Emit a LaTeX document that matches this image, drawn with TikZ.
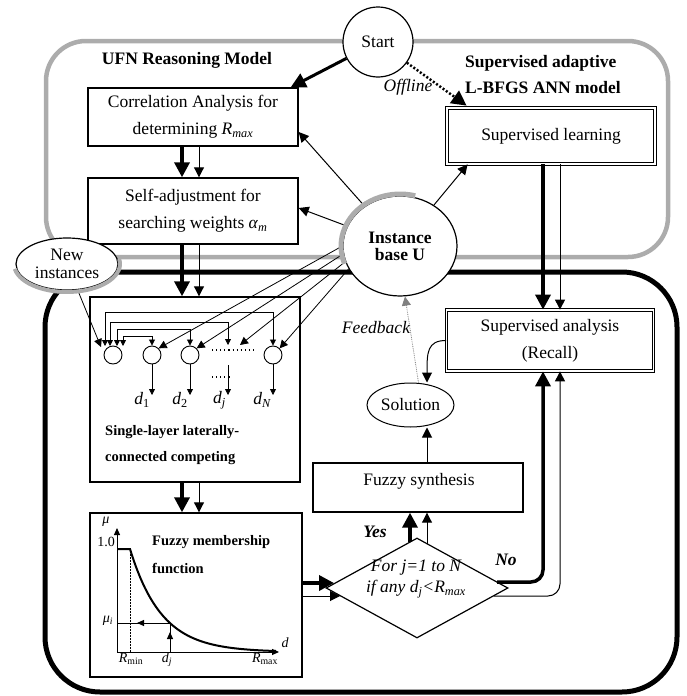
\documentclass[tikz,border=0pt]{standalone}
\usepackage{fontspec}
\setmainfont{Liberation Serif}
\usetikzlibrary{arrows.meta,shapes.geometric,calc}
\begin{document}
\begin{tikzpicture}[x=1pt,y=-1pt,
 txt/.style={font=\fontsize{17.5}{27}\selectfont},
 btxt/.style={font=\fontsize{17.5}{21}\selectfont\bfseries, inner sep=0pt},
 stxt/.style={font=\fontsize{14.5}{18}\selectfont\bfseries, inner sep=0pt},
 itxt/.style={font=\fontsize{17.5}{21}\selectfont\itshape, inner sep=0pt},
 ptxt/.style={font=\fontsize{14}{16}\selectfont, inner sep=0pt},
 box/.style={draw, line width=1.4pt, fill=white, inner sep=0pt, txt, align=center},
 dbox/.style={draw, line width=0.8pt, double, double distance=1.6pt, fill=white, inner sep=0pt, txt, align=center},
 thickarr/.style={line width=3.5pt, -{Triangle[length=15pt,width=15pt]}},
 thinarr/.style={line width=1pt, -{Triangle[length=10pt,width=10pt]}},
 netarr/.style={line width=0.8pt, -{Triangle[length=6pt,width=6pt]}},
 netarrb/.style={line width=0.8pt, {Triangle[length=6pt,width=6pt]}-{Triangle[length=6pt,width=6pt]}},
 fanarr/.style={line width=0.8pt, -{Triangle[length=8pt,width=8pt]}},
 greyline/.style={line width=4.5pt, draw=gray!65},
]
\useasboundingbox (0,0) rectangle (686,696);

% frames
\draw[greyline, rounded corners=40pt] (46,41) rectangle (668,257);
\draw[line width=5pt, rounded corners=55pt] (45,272) rectangle (677,692);

% columns
\coordinate (colA) at (182,0);
\coordinate (colB) at (199,0);
\coordinate (colC) at (543,0);
\coordinate (colD) at (560,0);
\coordinate (colE) at (410,0);
\coordinate (colF) at (427,0);

% titles
\node[btxt] (t1) at (187,60) {UFN Reasoning Model};
\node[btxt, anchor=west] (t2) at (465,63) {Supervised adaptive};
\node[btxt, anchor=west] (t3) at (465,88) {L-BFGS ANN model};

% boxes
\node[box, minimum width=210pt, minimum height=58pt] (corr) at (193,117)
  {Correlation Analysis for\\ determining \textit{R}\textsubscript{\textit{max}}};
\node[box, minimum width=210pt, minimum height=66pt] (self) at (193,211)
  {Self-adjustment for\\ searching weights \textit{α}\textsubscript{\textit{m}}};
\node[box, minimum width=210pt, minimum height=185pt] (net) at (195,389.5) {};
\node[box, minimum width=212pt, minimum height=164pt] (fuzz) at (196,595) {};
\node[box, minimum width=210pt, minimum height=49pt] (fs) at (418,487.5) {};
\node[txt, inner sep=0pt] (fst) at (419,481) {Fuzzy synthesis};
\node[dbox, minimum width=208pt, minimum height=56pt] (sl) at (551,136) {Supervised learning};
\node[dbox, minimum width=207pt, minimum height=61pt] (sa) at (550,340.5) {Supervised analysis\\(Recall)};
\node[ellipse, draw, line width=1pt, fill=white, minimum width=87pt, minimum height=44pt, inner sep=0pt, txt] (sol) at (410.5,405) {Solution};
\node[diamond, draw, line width=1.2pt, fill=white, minimum width=182pt, minimum height=100pt, inner sep=0pt] (dia) at (417,588) {};
\node[itxt] (dt1) at (416,568) {For j=1 to N};
\node[itxt] (dt2) at (416,589) {if any d\textsubscript{j}<R\textsubscript{max}};

% ellipses
\node[circle, draw, line width=1.2pt, fill=white, minimum size=70pt, inner sep=0pt, txt] (st) at (378,42) {Start};
\node[ellipse, draw, line width=1.2pt, fill=white, minimum width=114pt, minimum height=100pt, inner sep=0pt, align=center, font=\fontsize{17.5}{17}\selectfont\bfseries] (ib) at (400,246) {Instance\\base U};
\node[ellipse, draw, line width=1.2pt, fill=white, minimum width=102pt, minimum height=52pt, inner sep=0pt, align=center, font=\fontsize{17.5}{18}\selectfont] (ni) at (67,264) {New\\instances};

% network contents
\node[circle, draw, line width=0.9pt, minimum size=18pt, inner sep=0pt] (n1) at (113,355) {};
\node[circle, draw, line width=0.9pt, minimum size=18pt, inner sep=0pt] (n2) at (152,355) {};
\node[circle, draw, line width=0.9pt, minimum size=18pt, inner sep=0pt] (n3) at (190,355) {};
\node[circle, draw, line width=0.9pt, minimum size=18pt, inner sep=0pt] (n4) at (273,355) {};
\coordinate (nj) at (228,345);
\draw[line width=1.1pt, dash pattern=on 1.1pt off 3pt] (212,350) -- (256,350);
\draw[line width=1.1pt, dash pattern=on 1.1pt off 3pt] (212,377) -- (231,377);

\coordinate (a1) at (105,346); \coordinate (b1) at (273,312);
\coordinate (a2) at (110,346); \coordinate (b2) at (228,322);
\coordinate (a3) at (117,346); \coordinate (b3) at (190,329);
\coordinate (a4) at (123,346); \coordinate (b4) at (152,336);
\draw[netarrb] (a1) |- (b1) -- (n4.north);
\draw[netarrb] (a2) |- (b2) -- (nj);
\draw[netarrb] (a3) |- (b3) -- (n3.north);
\draw[netarrb] (a4) |- (b4) -- (n2.north);

\coordinate (e2) at (152,395);
\coordinate (e3) at (190,395);
\coordinate (ej0) at (228,365);
\coordinate (ej) at (228,395);
\coordinate (e4) at (273,395);
\draw[netarr] (n2) -- (e2);
\draw[netarr] (n3) -- (e3);
\draw[netarr] (ej0) -- (ej);
\draw[netarr] (n4) -- (e4);
\node[itxt, anchor=east] (ld1) at (150,400) {d\textsubscript{\upshape 1}};
\node[itxt, anchor=east] (ld2) at (188,400) {d\textsubscript{\upshape 2}};
\node[itxt, anchor=east] (ldj) at (226,400) {d\textsubscript{j}};
\node[itxt, anchor=east] (ldn) at (271,400) {d\textsubscript{N}};
\node[stxt, anchor=west] (nl1) at (105,432) {Single-layer laterally-};
\node[stxt, anchor=west] (nl2) at (105,458) {connected competing};

% fuzzy membership plot
\coordinate (O) at (117,652);
\coordinate (Ytop) at (117,528);
\coordinate (Xend) at (279,652);
\draw[line width=1pt, -{Triangle[length=7pt,width=6pt]}] (O) -- (Ytop);
\draw[line width=1pt, -{Triangle[length=7pt,width=6pt]}] (O) -- (Xend);
\draw[line width=2pt] (117,549) -- (130,549) -- plot[domain=130:276, samples=60] (\x,{652-103*exp(-(\x-130)/31.5)});
\draw[line width=0.5pt, densely dotted] (130,549) -- (130,652);
\coordinate (mp) at (170,623);
\coordinate (mq) at (117,623);
\coordinate (dq) at (170,652);
\draw[line width=1pt, -{Triangle[length=7pt,width=6pt]}] (mp) -- (137,623);
\draw[line width=1pt] (140,623) -- (mq);
\draw[line width=1pt, -{Triangle[length=7pt,width=6pt]}] (dq) -- (170,632);
\draw[line width=1pt] (170,635) -- (mp);
\node[ptxt] (mu) at (106,522) {\itshape μ};
\node[ptxt] (one) at (106,542) {1.0};
\node[ptxt] (mui) at (108,621) {\itshape μ\textsubscript{i}};
\node[ptxt] (rmin) at (131,659) {\itshape R\textsubscript{\upshape min}};
\node[ptxt] (dj) at (167,660) {\itshape d\textsubscript{j}};
\node[ptxt] (rmax) at (265,659) {\itshape R\textsubscript{\upshape max}};
\node[ptxt] (dax) at (285,643) {\itshape d};
\node[stxt, anchor=west] (fm1) at (152,542) {Fuzzy membership};
\node[stxt, anchor=west] (fm2) at (152,568) {function};

% main flow arrows
\draw[thickarr] (colA |- corr.south) -- (colA |- self.north);
\draw[thinarr] (colB |- corr.south) -- (colB |- self.north);
\draw[thickarr] (colA |- self.south) -- (colA |- net.north);
\draw[thinarr] (colB |- self.south) -- (colB |- net.north);
\draw[thickarr] (colA |- net.south) -- (colA |- fuzz.north);
\draw[thinarr] (colB |- net.south) -- (colB |- fuzz.north);
\draw[thickarr] (colC |- sl.south) -- (colC |- sa.north);
\draw[thinarr] (colD |- sl.south) -- (colD |- sa.north);

\coordinate (dthick) at (334,583);
\coordinate (dthin) at (340,596);
\draw[thickarr] ([yshift=12pt]fuzz.east) -- (dthick);
\draw[thinarr] ([yshift=-1pt]fuzz.east) -- (dthin);

\coordinate (dy1) at (410,541.8);
\coordinate (dy2) at (427,543.5);
\draw[thickarr] (dy1) -- (colE |- fs.south);
\draw[thinarr] (dy2) -- (colF |- fs.south);

\coordinate (dn1) at (497,582);
\coordinate (dn2) at (494,596);
\draw[line width=3.5pt, -{Triangle[length=15pt,width=15pt]}, rounded corners=12pt] (dn1) -| (colC |- sa.south);
\draw[thinarr, rounded corners=12pt] (dn2) -| (colD |- sa.south);

\draw[thinarr] (colF |- fs.north) -- (colF |- sol.south);
\draw[thinarr] (sa.west) .. controls +(-19,0) and +(0,-30) .. (colF |- sol.north);
\draw[line width=0.8pt, draw=gray, densely dotted, -{Triangle[length=9pt,width=9pt]}] ([xshift=8pt]sol.north) -- ([xshift=5pt]ib.south);
\node[itxt] (fb) at (376,328) {Feedback};

\draw[line width=3pt, -{Triangle[length=15pt,width=15pt]}] (st) -- ([xshift=-8pt]corr.north east);
\draw[line width=2.5pt, dash pattern=on 2pt off 2pt, -{Triangle[length=15pt,width=15pt]}] (st) -- ([xshift=20pt,yshift=2pt]sl.north west);
\node[itxt] (off) at (408,87) {Offline};

\draw[thinarr] (ib) -- ([yshift=-15pt]corr.east);
\draw[thinarr] (ib) -- ([yshift=3pt]self.east);
\draw[thinarr] (ib) -- ([xshift=21pt]sl.south west);

\draw[fanarr] (ib.180) -- (n2.north east);
\draw[fanarr] (ib.188) -- (n3.north east);
\draw[fanarr] (ib.196) -- ([xshift=12pt]nj);
\draw[fanarr] (ib.204) -- (n4.north east);

\coordinate (niend) at (101,347);
\draw[fanarr] (ni) -- (niend);

\node[btxt] (yes) at (375,532) {\itshape Yes};
\node[btxt] (no) at (506,560) {\itshape No};

% grey halos
\draw[draw=gray!65, line width=5pt] ($(ib.center)+(75:59pt and 52pt)$) arc[start angle=75, end angle=200, x radius=59pt, y radius=52pt];
\draw[draw=gray!65, line width=4pt] ($(ni.center)+(190:53pt and 28pt)$) arc[start angle=190, end angle=370, x radius=53pt, y radius=28pt];
\end{tikzpicture}
\end{document}
